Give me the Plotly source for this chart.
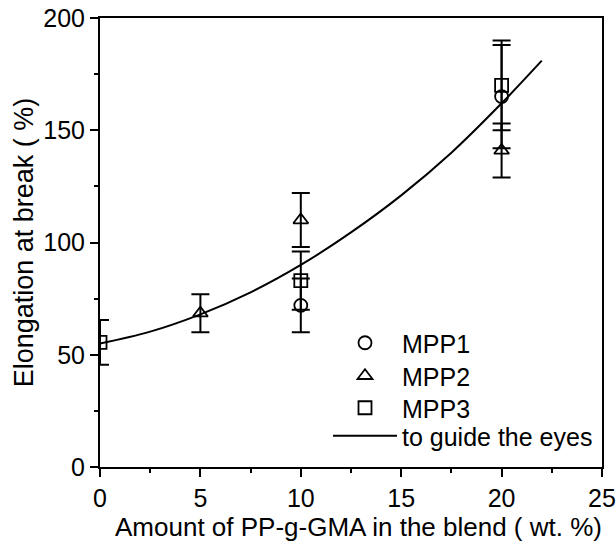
import plotly.graph_objects as go

# Elongation at break (%) vs PP-g-GMA content (wt. %), three MPP series
x_mpp1 = [10, 20]
y_mpp1 = [72, 165]
err_mpp1 = [12, 23]

x_mpp2 = [5, 10, 20]
y_mpp2 = [68.5, 110, 141]
err_mpp2 = [8.5, 12, 12]

x_mpp3 = [0, 10, 20]
y_mpp3 = [55.5, 83, 170]
err_mpp3 = [10, 13, 20]

# Trend line "to guide the eyes"
guide_x = [0, 2.5, 5, 7.5, 10, 12.5, 15, 17.5, 20, 22]
guide_y = [55, 60.3, 68, 77.8, 90, 104.5, 121, 140, 162, 181]

x_ticks = [0, 5, 10, 15, 20, 25]
y_ticks = [0, 50, 100, 150, 200]

FONT = "Liberation Sans, Arial, Helvetica, sans-serif"
BLACK = "#000000"

fig = go.Figure()

fig.add_trace(go.Scatter(
    x=guide_x, y=guide_y, mode="lines", line=dict(color=BLACK, width=2, shape="spline"),
    name="to guide the eyes", legend="legend4",
))


def series(x, y, err, symbol, name, legend):
    return go.Scatter(
        x=x, y=y, mode="markers", name=name, legend=legend,
        marker=dict(symbol=symbol, size=13, color=BLACK, line=dict(color=BLACK, width=1.8)),
        error_y=dict(type="data", array=err, visible=True, color=BLACK, thickness=2, width=9),
    )


fig.add_trace(series(x_mpp1, y_mpp1, err_mpp1, "circle-open", "MPP1", "legend"))
fig.add_trace(series(x_mpp2, y_mpp2, err_mpp2, "triangle-up-open", "MPP2", "legend2"))
fig.add_trace(series(x_mpp3, y_mpp3, err_mpp3, "square-open", "MPP3", "legend3"))

W, H = 616, 545
L, R, T, B = 100, 14, 18, 78
plot_h = H - T - B


def legend_at(ypix):
    return dict(
        x=(328 - L) / (W - L - R), xanchor="left",
        y=(H - B - ypix) / plot_h, yanchor="middle",
        bgcolor="rgba(0,0,0,0)", borderwidth=0, itemwidth=64,
        font=dict(family=FONT, size=25, color=BLACK),
    )


axis_common = dict(
    showline=True, linecolor=BLACK, linewidth=2, mirror=True,
    ticks="outside", ticklen=8, tickwidth=2, tickcolor=BLACK,
    showgrid=False, zeroline=False, automargin=False, ticklabeloverflow="allow",
    tickfont=dict(family=FONT, size=25, color=BLACK),
)

fig.update_layout(
    width=W, height=H,
    margin=dict(l=L, r=R, t=T, b=B),
    paper_bgcolor="white", plot_bgcolor="white",
    showlegend=True,
    legend=legend_at(343),
    legend2=legend_at(376),
    legend3=legend_at(408),
    legend4=legend_at(436),
    xaxis=dict(
        range=[0, 25], tickvals=x_ticks, **axis_common,
        minor=dict(dtick=2.5, ticks="outside", ticklen=4, tickwidth=2, tickcolor=BLACK),
    ),
    yaxis=dict(
        range=[0, 200], tickvals=y_ticks, **axis_common,
        minor=dict(dtick=25, ticks="outside", ticklen=4, tickwidth=2, tickcolor=BLACK),
        title=dict(text="Elongation at break ( %)",
                   font=dict(family=FONT, size=27, color=BLACK), standoff=2),
    ),
    annotations=[dict(
        text="Amount of PP-g-GMA in the blend ( wt. %)",
        xref="paper", yref="paper", x=0.5, y=0, xanchor="center", yanchor="top",
        xshift=7, yshift=-43, showarrow=False,
        font=dict(family=FONT, size=26, color=BLACK),
    )],
)

fig.write_html("out.html")
